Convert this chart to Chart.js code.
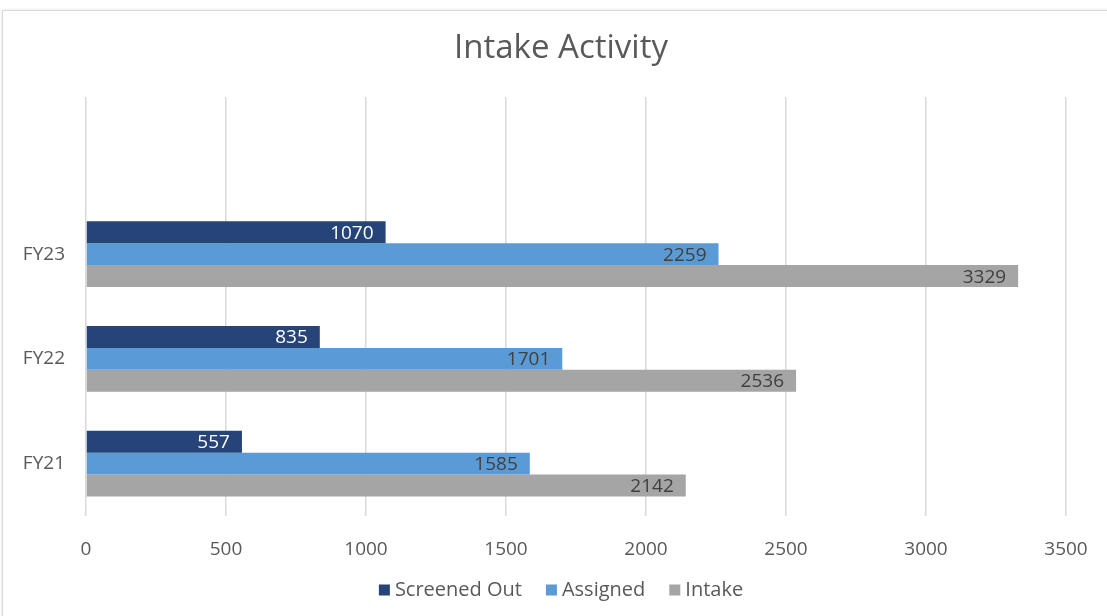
<!DOCTYPE html>
<html>
<head>
<meta charset="utf-8">
<script src="https://cdn.jsdelivr.net/npm/chart.js@4"></script>
<style>
  html, body { margin: 0; padding: 0; background: #ffffff; }
  #wrap { position: relative; width: 1107px; height: 616px; overflow: hidden; }
  #frame {
    position: absolute; left: 2px; top: 10px; width: 1120px; height: 620px;
    border: 1px solid #d9d9d9; box-shadow: 0 0 3px rgba(0,0,0,0.12);
    box-sizing: border-box; pointer-events: none;
  }
  canvas { position: absolute; left: 0; top: 0; }
</style>
</head>
<body>
<div id="wrap">
  <div id="frame"></div>
  <canvas id="chart" width="1107" height="616"></canvas>
</div>
<script>
// Fiscal years, listed top to bottom
const categories = ['FY23', 'FY22', 'FY21'];
const screenedOut = [1070, 835, 557];
const assigned = [2259, 1701, 1585];
const intake = [3329, 2536, 2142];
const seriesNames = ['Screened Out', 'Assigned', 'Intake'];
const xTicks = [0, 500, 1000, 1500, 2000, 2500, 3000, 3500];
const chartTitle = 'Intake Activity';

const FONT = "'Open Sans', sans-serif";
const TEXT = '#595959';
const CENTER_X = 561; // middle of the framed chart box

// An empty leading band keeps the space above the top group
const labels = [''].concat(categories);
const pad = arr => [null].concat(arr);

// Writes each bar's value just inside its end
const valueLabels = {
  id: 'valueLabels',
  afterDatasetsDraw(chart) {
    const ctx = chart.ctx;
    ctx.save();
    ctx.font = '19px ' + FONT;
    ctx.textAlign = 'right';
    ctx.textBaseline = 'middle';
    chart.data.datasets.forEach((ds, di) => {
      const meta = chart.getDatasetMeta(di);
      meta.data.forEach((bar, i) => {
        const v = ds.data[i];
        if (v == null) return;
        ctx.fillStyle = ds.labelColor;
        ctx.fillText(String(v), bar.x - 12, bar.y + 1);
      });
    });
    ctx.restore();
  }
};

// Title and a compact legend row, both centred on the framed box
const titleAndLegend = {
  id: 'titleAndLegend',
  afterDraw(chart) {
    const ctx = chart.ctx;
    ctx.save();
    ctx.fillStyle = TEXT;
    ctx.font = '33px ' + FONT;
    ctx.textAlign = 'center';
    ctx.textBaseline = 'middle';
    ctx.fillText(chartTitle, CENTER_X, 49);

    const box = 11, gap = 5, spacing = 24, y = 590;
    ctx.font = '20px ' + FONT;
    ctx.textAlign = 'left';
    const items = chart.data.datasets.map(ds => ({
      text: ds.label, color: ds.backgroundColor, w: ctx.measureText(ds.label).width
    }));
    const total = items.reduce((s, it) => s + box + gap + it.w, 0) + spacing * (items.length - 1);
    let x = CENTER_X - total / 2;
    items.forEach(it => {
      ctx.fillStyle = it.color;
      ctx.fillRect(x, y - box / 2, box, box);
      x += box + gap;
      ctx.fillStyle = TEXT;
      ctx.fillText(it.text, x, y);
      x += it.w + spacing;
    });
    ctx.restore();
  }
};

new Chart(document.getElementById('chart'), {
  type: 'bar',
  data: {
    labels: labels,
    datasets: [
      { label: seriesNames[0], data: pad(screenedOut), backgroundColor: '#264478', labelColor: '#ffffff' },
      { label: seriesNames[1], data: pad(assigned), backgroundColor: '#5b9bd5', labelColor: '#404040' },
      { label: seriesNames[2], data: pad(intake), backgroundColor: '#a5a5a5', labelColor: '#404040' }
    ]
  },
  options: {
    indexAxis: 'y',
    responsive: false,
    animation: false,
    events: [],
    layout: { padding: { left: 24, right: 41, top: 97, bottom: 56 } },
    datasets: { bar: { categoryPercentage: 0.63, barPercentage: 1.0 } },
    scales: {
      x: {
        type: 'linear',
        min: 0, max: 3500,
        afterBuildTicks: axis => { axis.ticks = xTicks.map(v => ({ value: v })); },
        afterFit: axis => { axis.height = 44; axis.paddingLeft = 0; axis.paddingRight = 0; },
        grid: { color: '#d9d9d9', lineWidth: 1.5, drawTicks: false },
        border: { display: false },
        ticks: {
          color: TEXT, font: { family: FONT, size: 19 }, padding: 22,
          callback: v => String(v)
        }
      },
      y: {
        type: 'category',
        afterFit: axis => { axis.width = 62; },
        grid: { display: false, drawTicks: false },
        border: { display: false },
        ticks: { color: TEXT, font: { family: FONT, size: 19 }, padding: 21 }
      }
    },
    plugins: {
      title: { display: false },
      legend: { display: false },
      tooltip: { enabled: false }
    }
  },
  plugins: [valueLabels, titleAndLegend]
});
</script>
</body>
</html>
